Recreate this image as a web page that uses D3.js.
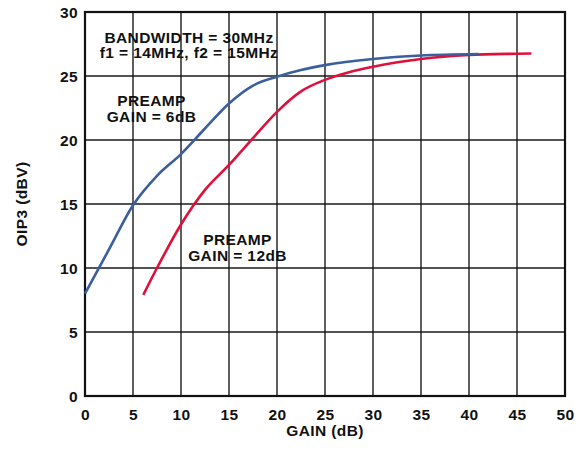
<!DOCTYPE html>
<html lang="en">
<head>
<meta charset="UTF-8">
<title>OIP3 vs Gain</title>
<style>
  body { margin: 0; background: #fff; }
  svg text { font-family: "Liberation Sans", Arial, Helvetica, sans-serif; font-weight: bold; fill: #111; letter-spacing: 0.4px; }
</style>
</head>
<body>
<div id="chart"></div>
<script src="https://d3js.org/d3.v7.min.js"></script>
<script>
const w = 578;
const h = 451;

// gain (dB) and OIP3 (dBV)
const gain6 = [0, 2.5, 5, 7.5, 10, 12.5, 15, 17.5, 20, 22.5, 25, 30, 35, 41];
const oip6  = [8.0, 11.45, 14.9, 17.2, 18.9, 20.9, 22.85, 24.25, 24.95, 25.47, 25.85, 26.33, 26.6, 26.72];

const gain12 = [6.07, 7.5, 10, 12.5, 15, 17.5, 20, 22.5, 25, 27.5, 30, 35, 40, 45, 46.5];
const oip12  = [7.9, 10.0, 13.4, 16.1, 18.05, 20.15, 22.2, 23.8, 24.7, 25.3, 25.73, 26.33, 26.64, 26.74, 26.76];

const xTicks = [0, 5, 10, 15, 20, 25, 30, 35, 40, 45, 50];
const yTicks = [0, 5, 10, 15, 20, 25, 30];

const margin = {left: 85, right: 13, top: 12, bottom: 55};

const x = d3.scaleLinear().domain([0, 50]).range([margin.left, w - margin.right]);
const y = d3.scaleLinear().domain([0, 30]).range([h - margin.bottom, margin.top]);

const svg = d3.select('#chart').append('svg')
    .attr('width', w)
    .attr('height', h);

// grid
svg.append('g')
    .selectAll('line')
    .data(xTicks)
    .enter()
    .append('line')
    .attr('x1', d => x(d)).attr('x2', d => x(d))
    .attr('y1', y(0)).attr('y2', y(30))
    .attr('stroke', '#1a1a1a')
    .attr('stroke-width', 1.4);

svg.append('g')
    .selectAll('line')
    .data(yTicks)
    .enter()
    .append('line')
    .attr('x1', x(0)).attr('x2', x(50))
    .attr('y1', d => y(d)).attr('y2', d => y(d))
    .attr('stroke', '#1a1a1a')
    .attr('stroke-width', 1.4);

svg.append('rect')
    .attr('x', x(0)).attr('y', y(30))
    .attr('width', x(50) - x(0))
    .attr('height', y(0) - y(30))
    .attr('fill', 'none')
    .attr('stroke', '#111')
    .attr('stroke-width', 2.2);

// axes (labels only)
const xAxis = d3.axisBottom(x).tickValues(xTicks).tickSize(0).tickPadding(0);
const yAxis = d3.axisLeft(y).tickValues(yTicks).tickSize(0).tickPadding(0);

const gx = svg.append('g')
    .attr('transform', `translate(0, ${y(0)})`)
    .call(xAxis);
gx.select('.domain').remove();
gx.selectAll('text')
    .attr('dy', null)
    .attr('y', 24);

const gy = svg.append('g')
    .attr('transform', `translate(${x(0) - 7}, 0)`)
    .call(yAxis);
gy.select('.domain').remove();
gy.selectAll('text')
    .attr('dy', '0.36em');

svg.selectAll('.tick text')
    .style('font-family', '"Liberation Sans", Arial, sans-serif')
    .style('font-weight', 'bold')
    .style('font-size', '15.5px')
    .attr('fill', '#111');

// curves
const line = d3.line()
    .x(d => x(d[0]))
    .y(d => y(d[1]))
    .curve(d3.curveMonotoneX);

svg.append('path')
    .datum(d3.zip(gain12, oip12))
    .attr('d', line)
    .attr('fill', 'none')
    .attr('stroke', '#e0103c')
    .attr('stroke-width', 2.6);

svg.append('path')
    .datum(d3.zip(gain6, oip6))
    .attr('d', line)
    .attr('fill', 'none')
    .attr('stroke', '#3a5e9e')
    .attr('stroke-width', 2.6);

// annotations
function label(lines, cx, baseline) {
    const t = svg.append('text')
        .attr('text-anchor', 'middle')
        .style('font-size', '15.5px');
    lines.forEach((s, i) => {
        t.append('tspan').attr('x', cx).attr('y', baseline + i * 15.5).text(s);
    });
}
label(['BANDWIDTH = 30MHz', 'f1 = 14MHz, f2 = 15MHz'], 189, 42.5);
label(['PREAMP', 'GAIN = 6dB'], 151.5, 106);
label(['PREAMP', 'GAIN = 12dB'], 237.5, 245);

// axis titles
svg.append('text')
    .attr('x', x(25))
    .attr('y', 436)
    .attr('text-anchor', 'middle')
    .style('font-size', '15.5px')
    .text('GAIN (dB)');

svg.append('text')
    .attr('transform', `translate(27, ${(y(0) + y(30)) / 2}) rotate(-90)`)
    .attr('text-anchor', 'middle')
    .style('font-size', '15.5px')
    .text('OIP3 (dBV)');
</script>
</body>
</html>
